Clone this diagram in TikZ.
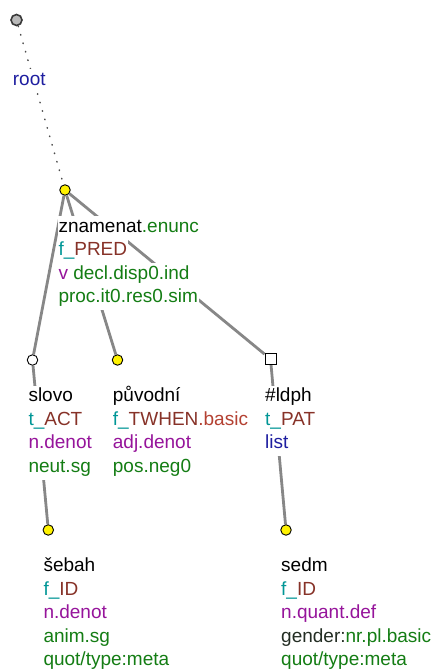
\documentclass[tikz,border=0pt]{standalone}
\usepackage{fontspec}
\setmainfont{Liberation Sans}
\usepackage{xcolor}
\usepackage{tikz}
\usetikzlibrary{backgrounds}
\definecolor{GramGreen}{RGB}{20,125,20}
\definecolor{FuncTeal}{RGB}{0,150,150}
\definecolor{FuncBrown}{RGB}{135,50,40}
\definecolor{SubRed}{RGB}{180,65,50}
\definecolor{SemPurple}{RGB}{150,20,155}
\definecolor{RootBlue}{RGB}{30,30,160}
\definecolor{GenderDark}{RGB}{35,45,35}
\definecolor{EdgeGray}{RGB}{135,135,135}
\newcommand{\lblsize}{\fontsize{19}{23.5}\selectfont}
\tikzset{
	lbl/.style={fill=white, inner xsep=1pt, inner ysep=0pt, text height=16pt, text depth=7.5pt, anchor=base west, font=\lblsize},
	tnode/.style={circle, draw=black, line width=0.9pt, minimum size=10.5pt, inner sep=0pt},
	yellownode/.style={tnode, fill=yellow},
	whitenode/.style={tnode, fill=white},
	boxnode/.style={rectangle, draw=black, line width=0.9pt, minimum size=11pt, inner sep=0pt, fill=white},
	rootnode/.style={circle, draw=gray!45!black, line width=1.6pt, fill=gray!55, minimum size=11pt, inner sep=0pt},
	treeedge/.style={draw=EdgeGray, line width=2.8pt},
	rootedge/.style={draw=gray!60!black, line width=1.5pt, line cap=round, dash pattern=on 0.6pt off 8.2pt}
}
\begin{document}
\begin{tikzpicture}[x=1pt, y=-1pt]
			\useasboundingbox (0,0) rectangle (438,672);
			% tree nodes
			\node[rootnode] (root) at (16.5,20) {};
			\node[yellownode] (znamenat) at (65,190) {};
			\node[whitenode] (slovo) at (32.5,360) {};
			\node[yellownode] (puvodni) at (117.5,360) {};
			\node[boxnode] (ldph) at (270.5,359) {};
			\node[yellownode] (sebah) at (48.3,530) {};
			\node[yellownode] (sedm) at (286,530) {};
			% labels
			\node[lbl, text=RootBlue] (root1) at (11.7,85) {root};
			\node[lbl] (znamenat1) at (57.3,232) {znamenat\textcolor{GramGreen}{.enunc}};
			\node[lbl] (znamenat2) at (57.3,255.5) {\textcolor{FuncTeal}{f\_}\textcolor{FuncBrown}{PRED}};
			\node[lbl] (znamenat3) at (57.3,279) {\textcolor{SemPurple}{v} \textcolor{GramGreen}{decl.disp0.ind}};
			\node[lbl, text=GramGreen] (znamenat4) at (57.3,302.5) {proc.it0.res0.sim};
			\node[lbl] (slovo1) at (27.3,401.7) {slovo};
			\node[lbl] (slovo2) at (27.3,425.2) {\textcolor{FuncTeal}{t\_}\textcolor{FuncBrown}{ACT}};
			\node[lbl, text=SemPurple] (slovo3) at (27.3,448.7) {n.denot};
			\node[lbl, text=GramGreen] (slovo4) at (27.3,472.2) {neut.sg};
			\node[lbl] (puvodni1) at (111.7,401.7) {původní};
			\node[lbl] (puvodni2) at (111.7,425.2) {\textcolor{FuncTeal}{f\_}\textcolor{FuncBrown}{TWHEN}\textcolor{SubRed}{.basic}};
			\node[lbl, text=SemPurple] (puvodni3) at (111.7,448.7) {adj.denot};
			\node[lbl, text=GramGreen] (puvodni4) at (111.7,472.2) {pos.neg0};
			\node[lbl] (ldph1) at (264,401.7) {\#ldph};
			\node[lbl] (ldph2) at (264,425.2) {\textcolor{FuncTeal}{t\_}\textcolor{FuncBrown}{PAT}};
			\node[lbl, text=RootBlue] (ldph3) at (264,448.7) {list};
			\node[lbl] (sebah1) at (42.3,571.7) {šebah};
			\node[lbl] (sebah2) at (42.3,595.2) {\textcolor{FuncTeal}{f\_}\textcolor{FuncBrown}{ID}};
			\node[lbl, text=SemPurple] (sebah3) at (42.3,618.7) {n.denot};
			\node[lbl, text=GramGreen] (sebah4) at (42.3,642.2) {anim.sg};
			\node[lbl, text=GramGreen] (sebah5) at (42.3,665.7) {quot/type:meta};
			\node[lbl] (sedm1) at (280,571.7) {sedm};
			\node[lbl] (sedm2) at (280,595.2) {\textcolor{FuncTeal}{f\_}\textcolor{FuncBrown}{ID}};
			\node[lbl, text=SemPurple] (sedm3) at (280,618.7) {n.quant.def};
			\node[lbl] (sedm4) at (280,642.2) {\textcolor{GenderDark}{gender:}\textcolor{GramGreen}{nr.pl.basic}};
			\node[lbl, text=GramGreen] (sedm5) at (280,665.7) {quot/type:meta};
			% edges
			\begin{scope}[on background layer]
				\draw[rootedge] (root) -- (znamenat);
				\draw[treeedge] (znamenat) -- (slovo);
				\draw[treeedge] (znamenat) -- (puvodni);
				\draw[treeedge] (znamenat) -- (ldph);
				\draw[treeedge] (slovo) -- (sebah);
				\draw[treeedge] (ldph) -- (sedm);
			\end{scope}
		\end{tikzpicture}
\end{document}
